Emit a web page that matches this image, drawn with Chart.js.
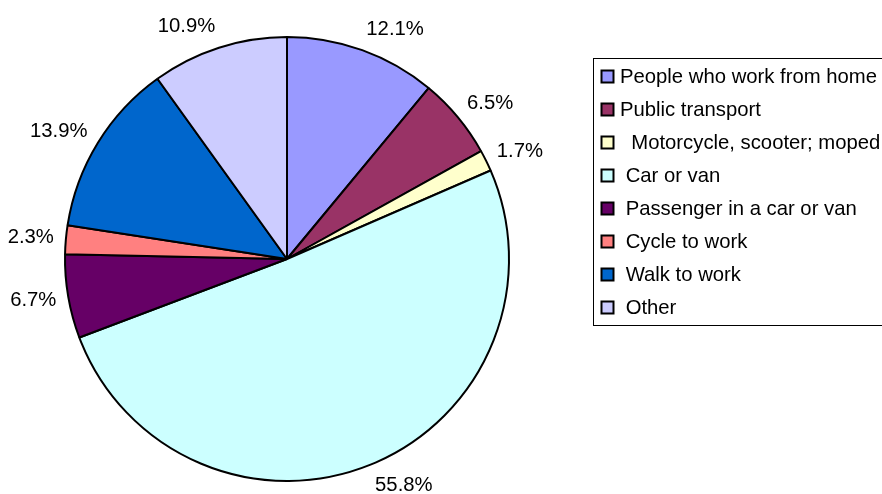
<!DOCTYPE html>
<html>
<head>
<meta charset="utf-8">
<script src="https://cdn.jsdelivr.net/npm/chart.js@4/dist/chart.umd.min.js"></script>
<style>
  html, body { margin: 0; padding: 0; background: #ffffff; }
  #wrap { width: 882px; height: 494px; position: relative; }
</style>
</head>
<body>
<div id="wrap"><canvas id="c" width="882" height="494"></canvas></div>
<script>
// ---- data ----
const categories = [
  "People who work from home",
  "Public transport",
  "  Motorcycle, scooter; moped",
  " Car or van",
  " Passenger in a car or van",
  " Cycle to work",
  " Walk to work",
  " Other"
];
const values = [12.1, 6.5, 1.7, 55.8, 6.7, 2.3, 13.9, 10.9];
const sliceColors = ["#9999FF", "#993366", "#FFFFCC", "#CCFFFF", "#660066", "#FF8080", "#0066CC", "#CCCCFF"];

const FONT = '20.3px "Liberation Sans", Arial, sans-serif';

const outsideLabels = {
  id: 'outsideLabels',
  afterDatasetsDraw(chart) {
    const ctx = chart.ctx;
    const meta = chart.getDatasetMeta(0);
    ctx.save();
    ctx.font = FONT;
    ctx.fillStyle = '#000';
    ctx.textAlign = 'center';
    ctx.textBaseline = 'middle';
    meta.data.forEach((arc, i) => {
      const p = arc.getProps(['x', 'y', 'startAngle', 'endAngle', 'outerRadius'], true);
      const mid = (p.startAngle + p.endAngle) / 2;
      const ux = Math.cos(mid), uy = Math.sin(mid);
      const txt = values[i].toFixed(1) + '%';
      const w = ctx.measureText(txt).width;
      const r = p.outerRadius + 12;
      const cx = p.x + r * ux + (w / 2) * Math.sign(ux);
      const cy = p.y + r * uy + 10 * uy;
      ctx.fillText(txt, cx, cy);
    });
    ctx.restore();
  }
};

const boxLegend = {
  id: 'boxLegend',
  afterDraw(chart) {
    const ctx = chart.ctx;
    const labels = chart.data.labels;
    const colors = chart.data.datasets[0].backgroundColor;
    ctx.save();
    ctx.strokeStyle = '#000';
    ctx.lineWidth = 1;
    ctx.strokeRect(593.5, 58.5, 320, 267);
    ctx.font = FONT;
    ctx.textAlign = 'left';
    ctx.textBaseline = 'middle';
    labels.forEach((lab, i) => {
      const cy = 76.5 + i * 33;
      ctx.fillStyle = colors[i];
      ctx.fillRect(601.5, cy - 6, 12, 12);
      ctx.lineWidth = 2;
      ctx.strokeStyle = '#000';
      ctx.strokeRect(601.5, cy - 6, 12, 12);
      ctx.fillStyle = '#000';
      ctx.fillText(lab, 620, cy + 1);
    });
    ctx.restore();
  }
};

new Chart(document.getElementById('c'), {
  type: 'pie',
  data: {
    labels: categories,
    datasets: [{
      data: values,
      backgroundColor: sliceColors,
      borderColor: '#000000',
      borderWidth: 2
    }]
  },
  options: {
    responsive: false,
    animation: false,
    events: [],
    layout: { padding: { left: 64, right: 372, top: 36, bottom: 12 } },
    plugins: {
      legend: { display: false },
      tooltip: { enabled: false },
      title: { display: false }
    }
  },
  plugins: [outsideLabels, boxLegend]
});
</script>
</body>
</html>
